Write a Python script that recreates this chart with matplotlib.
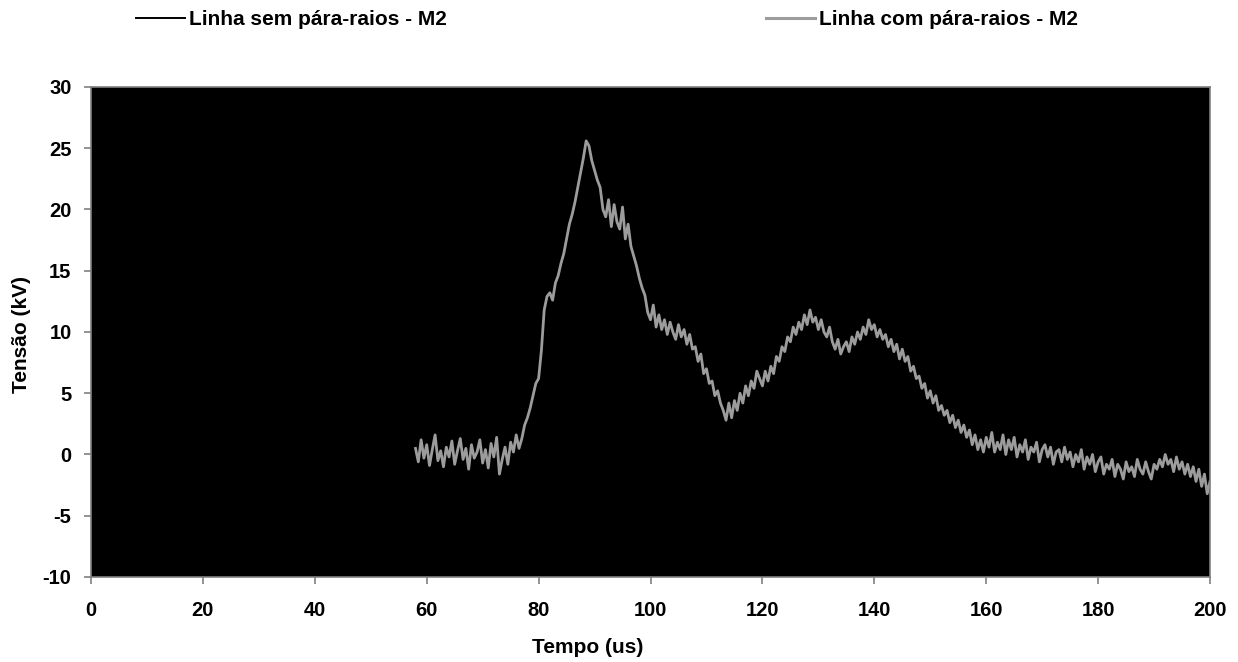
import numpy as np
import matplotlib.pyplot as plt
from matplotlib.lines import Line2D

plt.rcParams['font.family'] = ['Liberation Sans', 'DejaVu Sans']
plt.rcParams['font.weight'] = 'bold'
plt.rcParams['axes.unicode_minus'] = False

# tensao medida na linha com para-raios (kV), amostras a cada 0.5 us a partir de 58 us
tensao_com = [
    0.5, -0.6, 1.2, -0.3, 0.8, -0.9, 0.4, 1.6, -0.5, 0.3,
    -1.0, 0.6, -0.2, 1.1, -0.8, 0.3, 1.3, -0.4, 0.5, -1.2,
    0.8, -0.3, 0.2, 1.2, -0.7, 0.4, -1.1, 0.9, -0.2, 1.4,
    -1.6, -0.4, 0.6, -0.8, 1.0, 0.2, 1.6, 0.5, 1.3, 2.4,
    3.0, 3.8, 4.8, 5.8, 6.2, 8.5, 11.8, 12.9, 13.2, 12.6,
    14.0, 14.6, 15.6, 16.4, 17.6, 18.8, 19.6, 20.6, 21.8, 23.0,
    24.2, 25.6, 25.2, 24.0, 23.2, 22.4, 21.8, 20.0, 19.4, 20.8,
    18.6, 20.4, 19.0, 18.4, 20.2, 17.6, 18.8, 17.0, 16.2, 15.4,
    14.4, 13.6, 13.0, 11.6, 11.0, 12.2, 10.4, 11.4, 10.2, 11.0,
    9.8, 10.8, 10.0, 9.4, 10.6, 9.6, 10.2, 9.0, 9.8, 8.6,
    8.8, 7.6, 8.2, 6.6, 7.0, 5.8, 6.0, 4.8, 5.2, 4.2,
    3.6, 2.8, 4.2, 3.0, 4.4, 3.6, 5.0, 4.2, 5.6, 4.8,
    6.0, 5.4, 6.8, 6.2, 5.6, 6.8, 6.0, 7.2, 6.6, 8.0,
    7.6, 8.8, 8.4, 9.6, 9.2, 10.4, 9.8, 10.8, 10.2, 11.4,
    10.6, 11.8, 10.8, 11.2, 10.2, 11.0, 10.0, 9.6, 10.4, 9.2,
    8.6, 9.4, 8.2, 8.8, 9.2, 8.4, 9.6, 9.0, 10.0, 9.4,
    10.4, 9.8, 11.0, 10.2, 10.6, 9.6, 10.2, 9.4, 9.8, 8.8,
    9.4, 8.4, 9.0, 7.8, 8.6, 7.6, 8.0, 6.8, 7.2, 6.2,
    6.4, 5.4, 5.8, 4.6, 5.2, 4.2, 4.8, 3.6, 4.0, 3.2,
    3.6, 2.6, 3.2, 2.2, 2.8, 1.8, 2.4, 1.4, 2.0, 0.8,
    1.6, 0.4, 1.2, 0.2, 1.4, 0.6, 1.8, 0.2, 1.0, 0.4,
    1.6, 0.0, 1.2, 0.4, 1.4, -0.2, 0.8, 0.2, 1.2, -0.4,
    0.6, 0.2, 1.0, -0.6, 0.4, 0.8, -0.2, 0.6, -0.8, 0.2,
    0.4, -0.6, 0.6, -0.4, 0.2, -1.0, 0.0, -0.6, 0.4, -1.2,
    -0.2, -0.8, 0.0, -1.4, -0.6, -0.2, -1.6, -0.8, -1.2, -0.4,
    -1.8, -0.8, -1.2, -2.0, -0.6, -1.4, -1.0, -1.8, -0.4, -1.2,
    -1.6, -0.6, -1.4, -2.0, -0.8, -1.2, -0.4, -1.0, 0.0, -0.8,
    -0.4, -1.4, -0.2, -1.2, -0.6, -1.6, -0.8, -1.8, -1.0, -2.2,
    -1.2, -2.6, -1.6, -3.2, -2.2,
]
t_inicio = 58.0
t_fim = 200.0
tempo = np.linspace(t_inicio, t_fim, len(tensao_com))

xticks = list(range(0, 201, 20))
yticks = list(range(-10, 31, 5))

serie_sem = 'Linha sem pára-raios - M2'
serie_com = 'Linha com pára-raios - M2'

fig = plt.figure(figsize=(12.38, 6.62), dpi=100)
ax = fig.add_axes([0.0735, 0.1284, 0.9039, 0.7402])
ax.set_facecolor('black')

ax.plot(tempo, tensao_com, color='#9c9c9c', lw=2.0)

ax.set_xlim(0, 200)
ax.set_ylim(-10, 30)
ax.set_xticks(xticks)
ax.set_yticks(yticks)
for s in ax.spines.values():
    s.set_color('#808080')
    s.set_linewidth(1.2)
ax.tick_params(axis='both', colors='#808080', labelcolor='black', labelsize=14.5,
               length=5, width=1.2, direction='out')
ax.tick_params(axis='y', pad=9)
ax.tick_params(axis='x', pad=12)
ax.set_xlabel('Tempo (us)', fontsize=15, fontweight='bold')
ax.set_ylabel('Tensão (kV)', fontsize=15, fontweight='bold')
ax.xaxis.set_label_coords(0.444, -0.125)
ax.yaxis.set_label_coords(-0.054, 0.495)

handles = [Line2D([], [], color='black', lw=1.4),
           Line2D([], [], color='#9c9c9c', lw=2.2)]
fig.legend(handles, [serie_sem, serie_com], loc='upper left', ncol=2,
           bbox_to_anchor=(136 / 1238, 1 - 10 / 662), frameon=False,
           fontsize=15, handlelength=2.35, handletextpad=0.2,
           columnspacing=15.3, borderpad=0, borderaxespad=0)

fig.savefig('out.png', dpi=100, facecolor='white')
